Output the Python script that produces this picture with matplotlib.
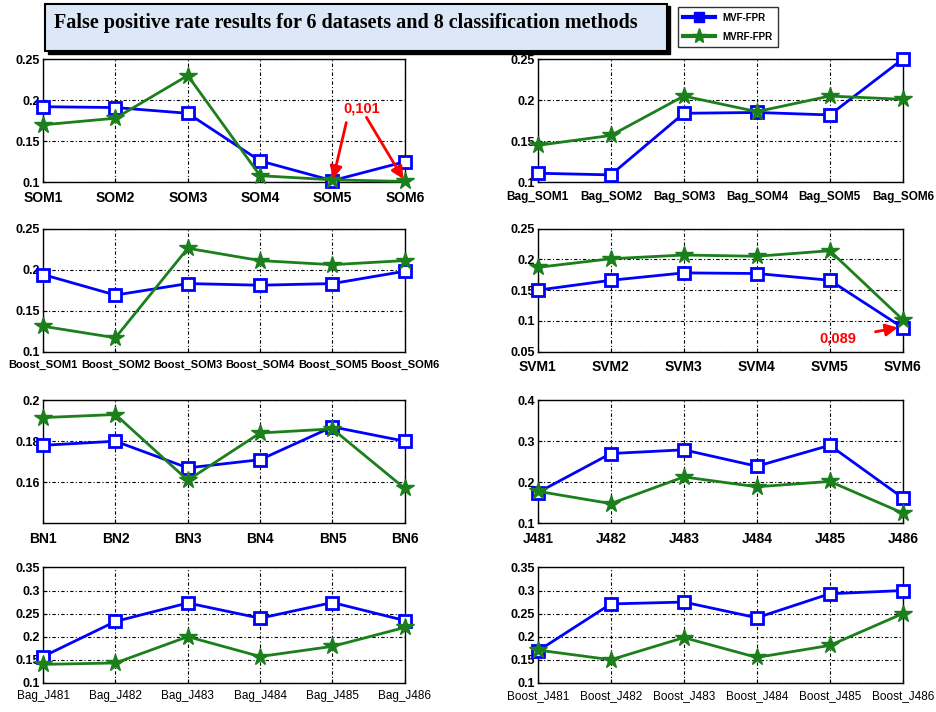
import matplotlib.pyplot as plt
from matplotlib.patches import Rectangle
from matplotlib.lines import Line2D

plt.rcParams['font.family'] = ['Liberation Sans', 'DejaVu Sans']

som = ['SOM1', 'SOM2', 'SOM3', 'SOM4', 'SOM5', 'SOM6']
bag_som = ['Bag_SOM1', 'Bag_SOM2', 'Bag_SOM3', 'Bag_SOM4', 'Bag_SOM5', 'Bag_SOM6']
boost_som = ['Boost_SOM1', 'Boost_SOM2', 'Boost_SOM3', 'Boost_SOM4', 'Boost_SOM5', 'Boost_SOM6']
svm = ['SVM1', 'SVM2', 'SVM3', 'SVM4', 'SVM5', 'SVM6']
bn = ['BN1', 'BN2', 'BN3', 'BN4', 'BN5', 'BN6']
j48 = ['J481', 'J482', 'J483', 'J484', 'J485', 'J486']
bag_j48 = ['Bag_J481', 'Bag_J482', 'Bag_J483', 'Bag_J484', 'Bag_J485', 'Bag_J486']
boost_j48 = ['Boost_J481', 'Boost_J482', 'Boost_J483', 'Boost_J484', 'Boost_J485', 'Boost_J486']

mvf_som = [0.192, 0.191, 0.184, 0.126, 0.102, 0.125]
mvrf_som = [0.170, 0.178, 0.230, 0.108, 0.103, 0.101]
mvf_bag_som = [0.111, 0.109, 0.184, 0.185, 0.182, 0.250]
mvrf_bag_som = [0.145, 0.157, 0.205, 0.186, 0.205, 0.201]
mvf_boost_som = [0.194, 0.169, 0.183, 0.181, 0.183, 0.198]
mvrf_boost_som = [0.131, 0.117, 0.226, 0.211, 0.206, 0.211]
mvf_svm = [0.150, 0.166, 0.178, 0.177, 0.166, 0.089]
mvrf_svm = [0.187, 0.201, 0.207, 0.205, 0.214, 0.102]
mvf_bn = [0.178, 0.180, 0.167, 0.171, 0.187, 0.180]
mvrf_bn = [0.1915, 0.193, 0.161, 0.184, 0.186, 0.157]
mvf_j48 = [0.175, 0.270, 0.279, 0.239, 0.290, 0.162]
mvrf_j48 = [0.178, 0.148, 0.213, 0.189, 0.202, 0.125]
mvf_bag_j48 = [0.157, 0.233, 0.273, 0.240, 0.274, 0.235]
mvrf_bag_j48 = [0.140, 0.143, 0.200, 0.157, 0.179, 0.220]
mvf_boost_j48 = [0.169, 0.271, 0.275, 0.241, 0.293, 0.300]
mvrf_boost_j48 = [0.171, 0.150, 0.198, 0.155, 0.181, 0.250]

t25 = [0.1, 0.15, 0.2, 0.25]
t35 = [0.1, 0.15, 0.2, 0.25, 0.3, 0.35]
panels = [
    (som, mvf_som, mvrf_som, (0.1, 0.25), t25, 10, 'bold'),
    (bag_som, mvf_bag_som, mvrf_bag_som, (0.1, 0.25), t25, 8.5, 'bold'),
    (boost_som, mvf_boost_som, mvrf_boost_som, (0.1, 0.25), t25, 8, 'bold'),
    (svm, mvf_svm, mvrf_svm, (0.05, 0.25), [0.05, 0.1, 0.15, 0.2, 0.25], 10, 'bold'),
    (bn, mvf_bn, mvrf_bn, (0.14, 0.2), [0.16, 0.18, 0.2], 10, 'bold'),
    (j48, mvf_j48, mvrf_j48, (0.1, 0.4), [0.1, 0.2, 0.3, 0.4], 10, 'bold'),
    (bag_j48, mvf_bag_j48, mvrf_bag_j48, (0.1, 0.35), t35, 8.5, 'normal'),
    (boost_j48, mvf_boost_j48, mvrf_boost_j48, (0.1, 0.35), t35, 8.5, 'normal'),
]

blue = '#0000ff'
green = '#1b7f1b'

fig = plt.figure(figsize=(9.37, 7.12), dpi=100)
lefts = [0.046, 0.574]
bottoms = [0.744, 0.506, 0.265, 0.041]
w, h = [0.386, 0.3895], 0.173

axes = []
for i, (labels, mvf, mvrf, ylim, yt, xfs, xfw) in enumerate(panels):
    r, c = divmod(i, 2)
    ax = fig.add_axes([lefts[c], bottoms[r], w[c], h if r < 3 else 0.162])
    x = list(range(1, 7))
    ax.plot(x, mvf, '-s', color=blue, lw=2, ms=8, mew=2, mfc='white', mec=blue, zorder=3, clip_on=False)
    ax.plot(x, mvrf, '-*', color=green, lw=2, ms=13, mew=1, mfc=green, mec=green, zorder=3, clip_on=False)
    ax.set_xlim(1, 6)
    ax.set_ylim(*ylim)
    ax.set_xticks(x)
    ax.set_xticklabels(labels, fontsize=xfs, fontweight=xfw)
    ax.set_yticks(yt)
    ax.set_yticklabels([f'{v:g}' for v in yt], fontsize=9, fontweight='bold')
    ax.tick_params(axis='x', direction='in', length=3, pad=6 if r < 3 else 5)
    ax.tick_params(axis='y', direction='in', length=3, pad=2)
    ax.grid(True, color='black', linestyle=(0, (3, 2, 1, 2)), linewidth=0.8)
    for s in ax.spines.values():
        s.set_linewidth(1)
    axes.append(ax)

axes[0].annotate('', xy=(5, 0.101), xytext=(5.2, 0.176),
                 arrowprops=dict(arrowstyle='-|>', color='red', lw=2, mutation_scale=18))
axes[0].annotate('', xy=(6, 0.101), xytext=(5.45, 0.182),
                 arrowprops=dict(arrowstyle='-|>', color='red', lw=2, mutation_scale=18))
axes[0].text(5.41, 0.19, '0,101', color='red', fontsize=10.5, fontweight='bold', ha='center', va='center')
axes[3].annotate('0,089', xy=(5.97, 0.09), xytext=(5.11, 0.071), color='red', fontsize=10.5,
                 fontweight='bold', ha='center', va='center',
                 arrowprops=dict(arrowstyle='-|>', color='red', lw=2, mutation_scale=18,
                                 shrinkA=12))

# title box with shadow
fig.patches.append(Rectangle((0.051, 0.924), 0.664, 0.067, transform=fig.transFigure,
                             facecolor='black', edgecolor='black'))
fig.patches.append(Rectangle((0.048, 0.928), 0.664, 0.066, transform=fig.transFigure,
                             facecolor='#dce8f7', edgecolor='black', lw=1.5))
fig.text(0.058, 0.968, 'False positive rate results for 6 datasets and 8 classification methods',
         family=['Liberation Serif'], fontsize=14.5, fontweight='bold', va='center', ha='left')

handles = [Line2D([], [], color=blue, marker='s', lw=3, ms=7, mfc=blue),
           Line2D([], [], color=green, marker='*', lw=3, ms=11, mfc=green)]
leg = fig.legend(handles, ['MVF-FPR', 'MVRF-FPR'], loc='upper left',
                 bbox_to_anchor=(0.718, 0.997), frameon=True, fancybox=False,
                 handlelength=3.2, borderpad=0.6, labelspacing=0.9, prop={'weight': 'bold', 'size': 7})
leg.get_frame().set_edgecolor('black')
leg.get_frame().set_linewidth(1)

fig.savefig('out.png', dpi=100)
